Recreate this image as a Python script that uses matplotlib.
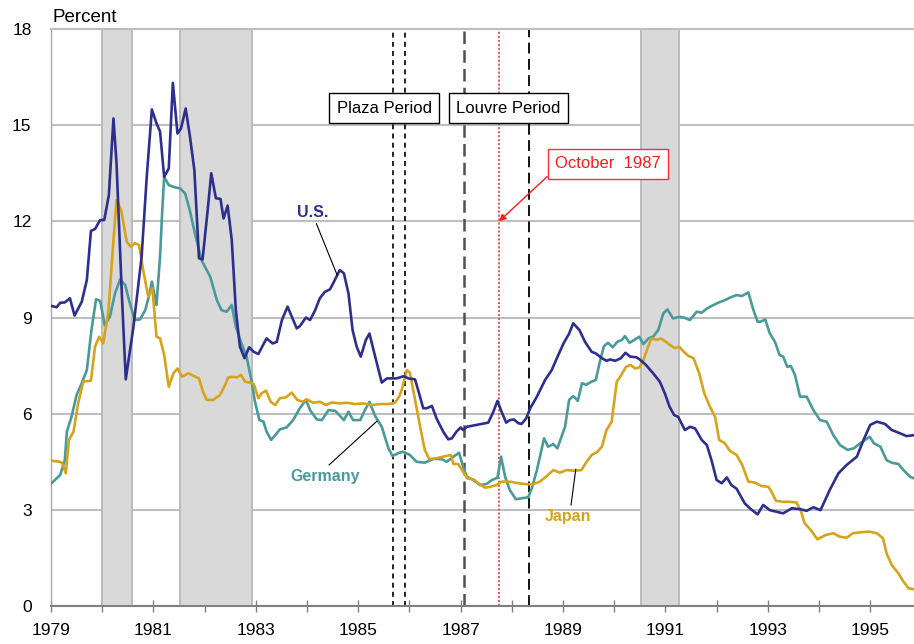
import matplotlib

matplotlib.use("Agg")
import matplotlib.pyplot as plt
from matplotlib.ticker import FixedLocator

plt.rcParams["font.family"] = ["Liberation Sans", "DejaVu Sans"]

# (year, percent)
us_years = [
    1979.01, 1979.11, 1979.18, 1979.27, 1979.37, 1979.46, 1979.60, 1979.70, 1979.78, 1979.86,
    1979.96, 1980.04, 1980.13, 1980.22, 1980.28, 1980.38, 1980.46, 1980.61, 1980.77, 1980.87,
    1980.97, 1981.06, 1981.13, 1981.21, 1981.30, 1981.38, 1981.47, 1981.54, 1981.63, 1981.71,
    1981.80, 1981.89, 1981.96, 1982.06, 1982.13, 1982.22, 1982.31, 1982.37, 1982.45, 1982.53,
    1982.61, 1982.69, 1982.78, 1982.87, 1982.96, 1983.05, 1983.21, 1983.33, 1983.41, 1983.51,
    1983.62, 1983.80, 1983.86, 1983.98, 1984.06, 1984.16, 1984.25, 1984.35, 1984.45, 1984.55,
    1984.64, 1984.72, 1984.81, 1984.89, 1984.97, 1985.05, 1985.15, 1985.22, 1985.30, 1985.46,
    1985.56, 1985.65, 1985.75, 1985.89, 1985.98, 1986.11, 1986.17, 1986.27, 1986.34, 1986.44,
    1986.53, 1986.66, 1986.76, 1986.83, 1986.92, 1987.00, 1987.05, 1987.12, 1987.31, 1987.54,
    1987.64, 1987.72, 1987.80, 1987.89, 1987.96, 1988.04, 1988.13, 1988.19, 1988.28, 1988.36,
    1988.49, 1988.65, 1988.78, 1988.88, 1989.01, 1989.12, 1989.20, 1989.32, 1989.43, 1989.56,
    1989.64, 1989.76, 1989.85, 1989.92, 1990.02, 1990.13, 1990.22, 1990.31, 1990.43, 1990.50,
    1990.62, 1990.76, 1990.89, 1990.99, 1991.08, 1991.17, 1991.25, 1991.38, 1991.48, 1991.58,
    1991.71, 1991.81, 1991.90, 1992.00, 1992.10, 1992.20, 1992.29, 1992.39, 1992.55, 1992.67,
    1992.80, 1992.91, 1993.04, 1993.17, 1993.30, 1993.47, 1993.63, 1993.76, 1993.89, 1994.03,
    1994.21, 1994.38, 1994.54, 1994.74, 1994.87, 1995.00, 1995.13, 1995.29, 1995.42, 1995.58,
    1995.71, 1995.86,
]
us_values = [
    9.36, 9.32, 9.46, 9.47, 9.60, 9.06, 9.49, 10.17, 11.70, 11.76,
    12.04, 12.04, 12.82, 15.21, 13.80, 9.86, 7.07, 8.71, 10.90, 13.39,
    15.49, 15.06, 14.80, 13.39, 13.65, 16.32, 14.74, 14.90, 15.52, 14.69,
    13.60, 10.85, 10.81, 12.35, 13.50, 12.72, 12.70, 12.09, 12.49, 11.42,
    9.23, 8.09, 7.73, 8.07, 7.93, 7.86, 8.35, 8.19, 8.24, 8.92,
    9.34, 8.66, 8.73, 9.00, 8.92, 9.23, 9.60, 9.80, 9.88, 10.19,
    10.48, 10.38, 9.75, 8.61, 8.09, 7.78, 8.30, 8.50, 7.98, 6.97,
    7.10, 7.10, 7.10, 7.17, 7.10, 7.07, 6.74, 6.17, 6.17, 6.24,
    5.85, 5.44, 5.20, 5.23, 5.44, 5.57, 5.49, 5.59, 5.65, 5.72,
    6.06, 6.40, 6.06, 5.72, 5.80, 5.82, 5.70, 5.68, 5.85, 6.17,
    6.53, 7.05, 7.36, 7.73, 8.19, 8.50, 8.82, 8.61, 8.24, 7.93,
    7.88, 7.73, 7.65, 7.69, 7.65, 7.73, 7.90, 7.78, 7.76, 7.69,
    7.52, 7.26, 7.00, 6.63, 6.22, 5.96, 5.90, 5.49, 5.59, 5.54,
    5.18, 5.02, 4.55, 3.93, 3.83, 4.01, 3.77, 3.66, 3.20, 3.02,
    2.86, 3.15, 2.99, 2.94, 2.89, 3.05, 3.02, 2.97, 3.08, 2.99,
    3.62, 4.14, 4.40, 4.66, 5.18, 5.65, 5.75, 5.68, 5.49, 5.39,
    5.30, 5.33,
]

germany_years = [
    1979.01, 1979.18, 1979.27, 1979.31, 1979.40, 1979.50, 1979.60, 1979.70, 1979.79, 1979.88,
    1979.96, 1980.05, 1980.15, 1980.25, 1980.35, 1980.45, 1980.54, 1980.64, 1980.74, 1980.84,
    1980.91, 1980.97, 1981.06, 1981.13, 1981.17, 1981.21, 1981.30, 1981.42, 1981.52, 1981.62,
    1981.71, 1981.81, 1981.94, 1982.11, 1982.24, 1982.33, 1982.43, 1982.53, 1982.61, 1982.72,
    1982.82, 1982.92, 1982.98, 1983.07, 1983.15, 1983.21, 1983.30, 1983.38, 1983.47, 1983.60,
    1983.73, 1983.86, 1983.98, 1984.06, 1984.19, 1984.29, 1984.42, 1984.55, 1984.72, 1984.81,
    1984.90, 1985.04, 1985.13, 1985.22, 1985.33, 1985.46, 1985.59, 1985.67, 1985.80, 1985.88,
    1986.01, 1986.14, 1986.30, 1986.47, 1986.63, 1986.73, 1986.86, 1986.97, 1987.05, 1987.12,
    1987.25, 1987.38, 1987.51, 1987.61, 1987.72, 1987.79, 1987.87, 1987.96, 1988.08, 1988.19,
    1988.32, 1988.39, 1988.49, 1988.63, 1988.71, 1988.81, 1988.89, 1989.04, 1989.12, 1989.20,
    1989.29, 1989.37, 1989.45, 1989.56, 1989.64, 1989.72, 1989.80, 1989.88, 1989.97, 1990.06,
    1990.15, 1990.21, 1990.30, 1990.39, 1990.49, 1990.57, 1990.67, 1990.76, 1990.86, 1990.96,
    1991.04, 1991.15, 1991.27, 1991.36, 1991.48, 1991.61, 1991.71, 1991.81, 1991.94, 1992.03,
    1992.16, 1992.26, 1992.39, 1992.49, 1992.62, 1992.72, 1992.80, 1992.86, 1992.95, 1993.04,
    1993.14, 1993.23, 1993.30, 1993.38, 1993.45, 1993.53, 1993.63, 1993.76, 1993.89, 1994.02,
    1994.15, 1994.28, 1994.41, 1994.56, 1994.68, 1994.81, 1994.90, 1994.99, 1995.07, 1995.20,
    1995.32, 1995.42, 1995.55, 1995.65, 1995.78, 1995.86,
]
germany_values = [
    3.83, 4.09, 4.55, 5.44, 5.90, 6.58, 6.95, 7.36, 8.61, 9.57,
    9.52, 8.76, 9.02, 9.75, 10.19, 10.01, 9.44, 8.92, 8.94, 9.23,
    9.65, 10.12, 9.39, 10.90, 12.25, 13.39, 13.13, 13.06, 13.03, 12.87,
    12.35, 11.63, 10.79, 10.27, 9.54, 9.23, 9.18, 9.39, 8.71, 8.19,
    7.78, 7.00, 6.40, 5.80, 5.75, 5.44, 5.18, 5.33, 5.51, 5.57,
    5.80, 6.17, 6.43, 6.11, 5.82, 5.80, 6.11, 6.09, 5.80, 6.06,
    5.80, 5.80, 6.11, 6.37, 5.93, 5.59, 4.92, 4.68, 4.78, 4.81,
    4.71, 4.50, 4.47, 4.59, 4.58, 4.50, 4.66, 4.78, 4.34, 4.03,
    3.93, 3.77, 3.81, 3.93, 4.00, 4.66, 4.03, 3.62, 3.33, 3.36,
    3.39, 3.67, 4.24, 5.23, 4.97, 5.05, 4.92, 5.59, 6.43, 6.55,
    6.40, 6.95, 6.90, 7.00, 7.05, 7.62, 8.11, 8.21, 8.07, 8.24,
    8.30, 8.42, 8.21, 8.30, 8.40, 8.17, 8.35, 8.40, 8.61, 9.13,
    9.25, 8.97, 9.02, 9.00, 8.92, 9.18, 9.15, 9.28, 9.39, 9.46,
    9.54, 9.62, 9.70, 9.67, 9.78, 9.23, 8.87, 8.87, 8.94, 8.50,
    8.24, 7.83, 7.78, 7.46, 7.49, 7.21, 6.53, 6.53, 6.11, 5.80,
    5.75, 5.33, 5.02, 4.87, 4.92, 5.08, 5.18, 5.28, 5.08, 4.97,
    4.55, 4.47, 4.43, 4.24, 4.03, 3.98,
]

japan_years = [
    1979.01, 1979.18, 1979.22, 1979.29, 1979.35, 1979.44, 1979.53, 1979.63, 1979.78, 1979.86,
    1979.94, 1980.02, 1980.12, 1980.22, 1980.28, 1980.37, 1980.48, 1980.56, 1980.64, 1980.72,
    1980.80, 1980.90, 1980.98, 1981.06, 1981.13, 1981.21, 1981.30, 1981.39, 1981.47, 1981.56,
    1981.68, 1981.80, 1981.89, 1981.97, 1982.04, 1982.17, 1982.30, 1982.40, 1982.46, 1982.56,
    1982.63, 1982.71, 1982.79, 1982.89, 1982.96, 1983.05, 1983.11, 1983.20, 1983.29, 1983.38,
    1983.47, 1983.59, 1983.70, 1983.81, 1983.92, 1983.99, 1984.12, 1984.25, 1984.37, 1984.48,
    1984.64, 1984.78, 1984.94, 1985.10, 1985.26, 1985.43, 1985.59, 1985.72, 1985.80, 1985.85,
    1985.95, 1986.01, 1986.11, 1986.21, 1986.30, 1986.39, 1986.53, 1986.66, 1986.81, 1986.86,
    1986.95, 1987.05, 1987.13, 1987.25, 1987.37, 1987.48, 1987.58, 1987.70, 1987.80, 1987.96,
    1988.13, 1988.29, 1988.42, 1988.55, 1988.68, 1988.81, 1988.94, 1989.07, 1989.23, 1989.36,
    1989.46, 1989.56, 1989.67, 1989.76, 1989.85, 1989.95, 1990.05, 1990.11, 1990.23, 1990.32,
    1990.41, 1990.49, 1990.57, 1990.65, 1990.73, 1990.83, 1990.91, 1991.01, 1991.09, 1991.19,
    1991.27, 1991.36, 1991.45, 1991.55, 1991.66, 1991.76, 1991.87, 1991.97, 1992.05, 1992.16,
    1992.26, 1992.39, 1992.50, 1992.62, 1992.75, 1992.88, 1993.01, 1993.07, 1993.16, 1993.30,
    1993.43, 1993.56, 1993.64, 1993.72, 1993.84, 1993.97, 1994.12, 1994.28, 1994.41, 1994.54,
    1994.66, 1994.81, 1994.98, 1995.13, 1995.25, 1995.32, 1995.42, 1995.55, 1995.65, 1995.75,
    1995.86,
]
japan_values = [
    4.53, 4.50, 4.45, 4.14, 5.18, 5.44, 6.32, 7.00, 7.03, 8.09,
    8.40, 8.19, 9.18, 11.42, 12.66, 12.35, 11.36, 11.21, 11.32, 11.26,
    10.48, 9.65, 9.91, 8.40, 8.35, 7.83, 6.84, 7.26, 7.41, 7.15,
    7.26, 7.17, 7.10, 6.68, 6.43, 6.43, 6.58, 6.89, 7.13, 7.15,
    7.13, 7.21, 7.00, 6.97, 6.92, 6.48, 6.63, 6.72, 6.37, 6.27,
    6.48, 6.51, 6.66, 6.43, 6.37, 6.45, 6.34, 6.37, 6.27, 6.35,
    6.32, 6.34, 6.30, 6.32, 6.27, 6.30, 6.30, 6.34, 6.53, 6.74,
    7.36, 7.28, 6.43, 5.59, 4.87, 4.58, 4.61, 4.66, 4.71, 4.43,
    4.43, 4.19, 3.98, 3.95, 3.80, 3.69, 3.72, 3.77, 3.88, 3.88,
    3.83, 3.80, 3.80, 3.88, 4.05, 4.24, 4.16, 4.24, 4.22, 4.24,
    4.50, 4.71, 4.81, 4.97, 5.49, 5.75, 7.00, 7.13, 7.46, 7.52,
    7.41, 7.44, 7.67, 8.04, 8.35, 8.30, 8.35, 8.24, 8.14, 8.04,
    8.09, 7.93, 7.80, 7.73, 7.26, 6.63, 6.22, 5.90, 5.18, 5.08,
    4.84, 4.71, 4.40, 3.88, 3.85, 3.74, 3.72, 3.57, 3.28, 3.25,
    3.25, 3.23, 2.99, 2.58, 2.37, 2.08, 2.21, 2.27, 2.16, 2.13,
    2.27, 2.30, 2.32, 2.27, 2.11, 1.64, 1.28, 1.02, 0.76, 0.55,
    0.52,
]

recession_starts = [1980.0, 1981.52, 1990.52]
recession_ends = [1980.58, 1982.92, 1991.27]

plaza_dates = [1985.67, 1985.92]
louvre_dates = [1987.07, 1988.34]
crash_date = 1987.75

year_ticks = list(range(1979, 1996, 2))
minor_year_ticks = list(range(1980, 1996, 2))
percent_ticks = [0, 3, 6, 9, 12, 15, 18]

US_COLOR = "#2E2E8F"
GERMANY_COLOR = "#4A9A9A"
JAPAN_COLOR = "#D6A31A"
GRID_COLOR = "#BEBEBE"


def main() -> None:
    fig = plt.figure(figsize=(9.14, 6.44), dpi=100)
    ax = fig.add_axes([51 / 914, 38 / 644, 863 / 914, 577 / 644])
    ax.set_xlim(1979, 1979 + 863 / 51.2)
    ax.set_ylim(0, 18)

    # grid and frame
    ax.set_yticks(percent_ticks)
    ax.yaxis.grid(True, color=GRID_COLOR, lw=1.5, zorder=0)
    ax.set_axisbelow(True)
    ax.spines["right"].set_visible(False)
    ax.spines["top"].set_color(GRID_COLOR)
    ax.spines["top"].set_linewidth(1.5)
    ax.spines["left"].set_color("#A8A8A8")
    ax.spines["left"].set_linewidth(1.0)
    ax.spines["bottom"].set_color("#808080")
    ax.spines["bottom"].set_linewidth(1.5)

    ax.xaxis.set_major_locator(FixedLocator(year_ticks))
    ax.xaxis.set_minor_locator(FixedLocator(minor_year_ticks))
    ax.tick_params(axis="x", which="both", direction="inout", length=8, width=1,
                   color="#808080", labelsize=12.5, pad=8)
    ax.tick_params(axis="y", length=0, labelsize=12.5, pad=14)

    # recession shading
    for start, end in zip(recession_starts, recession_ends):
        ax.axvspan(start, end, facecolor="#D9D9D9", edgecolor="#B8B8B8", lw=1.3, zorder=1)

    # event lines
    for d in plaza_dates:
        ax.axvline(d, color="black", lw=1.2, ls=(0, (3, 2.5)), zorder=2)
    ax.axvline(louvre_dates[0], color="#505050", lw=1.8, ls=(0, (5, 2.5)), zorder=2)
    ax.axvline(louvre_dates[1], color="black", lw=1.3, ls=(0, (6, 3)), zorder=2)
    ax.axvline(crash_date, color="#E05050", lw=1.3, ls=(0, (1.2, 1.0)), zorder=2)

    # series
    ax.plot(germany_years, germany_values, color=GERMANY_COLOR, lw=1.9, zorder=3)
    ax.plot(japan_years, japan_values, color=JAPAN_COLOR, lw=1.9, zorder=4)
    ax.plot(us_years, us_values, color=US_COLOR, lw=1.9, zorder=5)

    # period boxes
    box = dict(boxstyle="square,pad=0.45", facecolor="white", edgecolor="black", lw=1)
    ax.text(1985.51, 15.53, "Plaza Period", ha="center", va="center", fontsize=12,
            bbox=box, zorder=6)
    ax.text(1987.93, 15.53, "Louvre Period", ha="center", va="center", fontsize=12,
            bbox=box, zorder=6)

    ax.annotate("October  1987", xy=(crash_date, 12.0), xytext=(1989.88, 13.79),
                ha="center", va="center", fontsize=12, color="#FF1A1A", zorder=6,
                bbox=dict(boxstyle="square,pad=0.45", facecolor="white",
                          edgecolor="#FF3030", lw=1),
                arrowprops=dict(arrowstyle="-|>", color="#FF1A1A", lw=1,
                                mutation_scale=10, shrinkA=0, shrinkB=0,
                                relpos=(0.0, 0.15)))

    # series labels
    pointer = dict(arrowstyle="-", color="black", lw=0.8, shrinkA=1, shrinkB=0)
    ax.annotate("U.S.", xy=(1984.59, 10.32), xytext=(1984.12, 12.29), ha="center",
                va="center", fontsize=11.5, fontweight="bold", color=US_COLOR,
                arrowprops=dict(pointer, relpos=(0.55, 0.0)), zorder=6)
    ax.annotate("Germany", xy=(1985.37, 5.77), xytext=(1984.35, 4.05), ha="center",
                va="center", fontsize=11.5, fontweight="bold", color=GERMANY_COLOR,
                arrowprops=dict(pointer, relpos=(0.5, 1.0)), zorder=6)
    ax.annotate("Japan", xy=(1989.25, 4.27), xytext=(1989.10, 2.78), ha="center",
                va="center", fontsize=11.5, fontweight="bold", color=JAPAN_COLOR,
                arrowprops=dict(pointer, relpos=(0.55, 1.0)), zorder=6)

    fig.text(52 / 914, 1 - 18 / 644, "Percent", ha="left", va="center", fontsize=13.5)

    fig.savefig("out.png", dpi=100)
    plt.close(fig)


if __name__ == "__main__":
    main()
